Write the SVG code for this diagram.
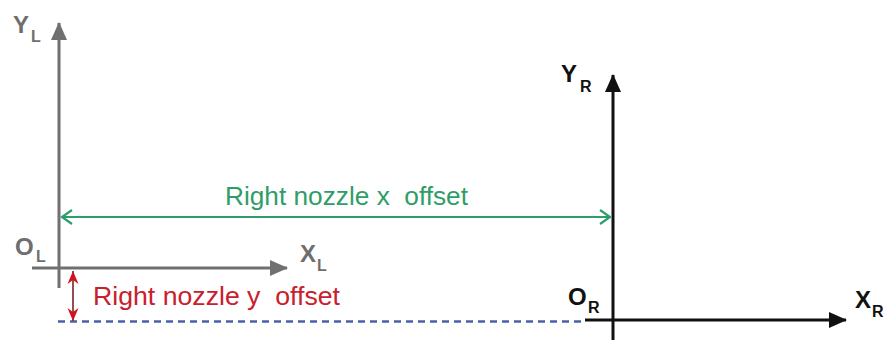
<svg xmlns="http://www.w3.org/2000/svg" width="889" height="341" viewBox="0 0 889 341">
<style>
.lbl{font-family:"Liberation Sans",Arial,sans-serif;font-weight:bold;font-size:24px}
.sub{font-family:"Liberation Sans",Arial,sans-serif;font-weight:bold;font-size:16px}
.gray{fill:#6e6e6e}
.blk{fill:#111}
.note{font-family:"Liberation Sans",Arial,sans-serif;font-size:26px}
</style>
<defs>
<marker id="triG" markerUnits="userSpaceOnUse" markerWidth="18" markerHeight="16" refX="17" refY="8" orient="auto"><path d="M0,0 L18,8 L0,16 Z" fill="#707070"/></marker>
<marker id="triK" markerUnits="userSpaceOnUse" markerWidth="18" markerHeight="16" refX="17" refY="8" orient="auto"><path d="M0,0 L18,8 L0,16 Z" fill="#111"/></marker>
<marker id="chevG" markerUnits="userSpaceOnUse" markerWidth="14" markerHeight="16" refX="12" refY="8" orient="auto-start-reverse"><path d="M2,1 L12,8 L2,15" fill="none" stroke="#2f9d68" stroke-width="2.2"/></marker>
<marker id="triR" markerUnits="userSpaceOnUse" markerWidth="14" markerHeight="12" refX="13" refY="6" orient="auto-start-reverse"><path d="M0,0.5 L13,6 L0,11.5 L4,6 Z" fill="#d0141e"/></marker>
</defs>
<rect width="889" height="341" fill="#fff"/>
<g id="connectors">
<line x1="58" y1="321.5" x2="586" y2="321.5" stroke="#4a62a8" stroke-width="2.5" stroke-dasharray="7 5"/>
<line x1="59" y1="288" x2="59" y2="23" stroke="#707070" stroke-width="3" marker-end="url(#triG)"/>
<line x1="32" y1="268" x2="287" y2="268" stroke="#707070" stroke-width="3" marker-end="url(#triG)"/>
<line x1="613" y1="340" x2="613" y2="75" stroke="#111" stroke-width="3" marker-end="url(#triK)"/>
<line x1="585" y1="320" x2="846" y2="320" stroke="#111" stroke-width="3" marker-end="url(#triK)"/>
<line x1="62" y1="217" x2="610" y2="217" stroke="#2f9d68" stroke-width="2" marker-start="url(#chevG)" marker-end="url(#chevG)"/>
<line x1="73" y1="271" x2="73" y2="321" stroke="#8a3a40" stroke-width="1.8" marker-start="url(#triR)" marker-end="url(#triR)"/>
</g>
<g id="left-frame">
<text class="lbl gray" x="13" y="33">Y</text><text class="sub gray" x="31" y="42">L</text>
<text class="lbl gray" x="15" y="255">O</text><text class="sub gray" x="36" y="262">L</text>
<text class="lbl gray" x="300" y="262">X</text><text class="sub gray" x="317" y="271">L</text>
</g>
<g id="right-frame">
<text class="lbl blk" x="561" y="82">Y</text><text class="sub blk" x="580" y="92">R</text>
<text class="lbl blk" x="568" y="305">O</text><text class="sub blk" x="588" y="313">R</text>
<text class="lbl blk" x="855" y="308">X</text><text class="sub blk" x="872" y="317">R</text>
</g>
<g id="x-offset">
<text class="note" x="225" y="205" fill="#2f9d68" textLength="243" lengthAdjust="spacingAndGlyphs" xml:space="preserve">Right nozzle x  offset</text>
</g>
<g id="y-offset">
<text class="note" x="93" y="305" fill="#c8202c" textLength="247" lengthAdjust="spacingAndGlyphs" xml:space="preserve">Right nozzle y  offset</text>
</g>
</svg>
